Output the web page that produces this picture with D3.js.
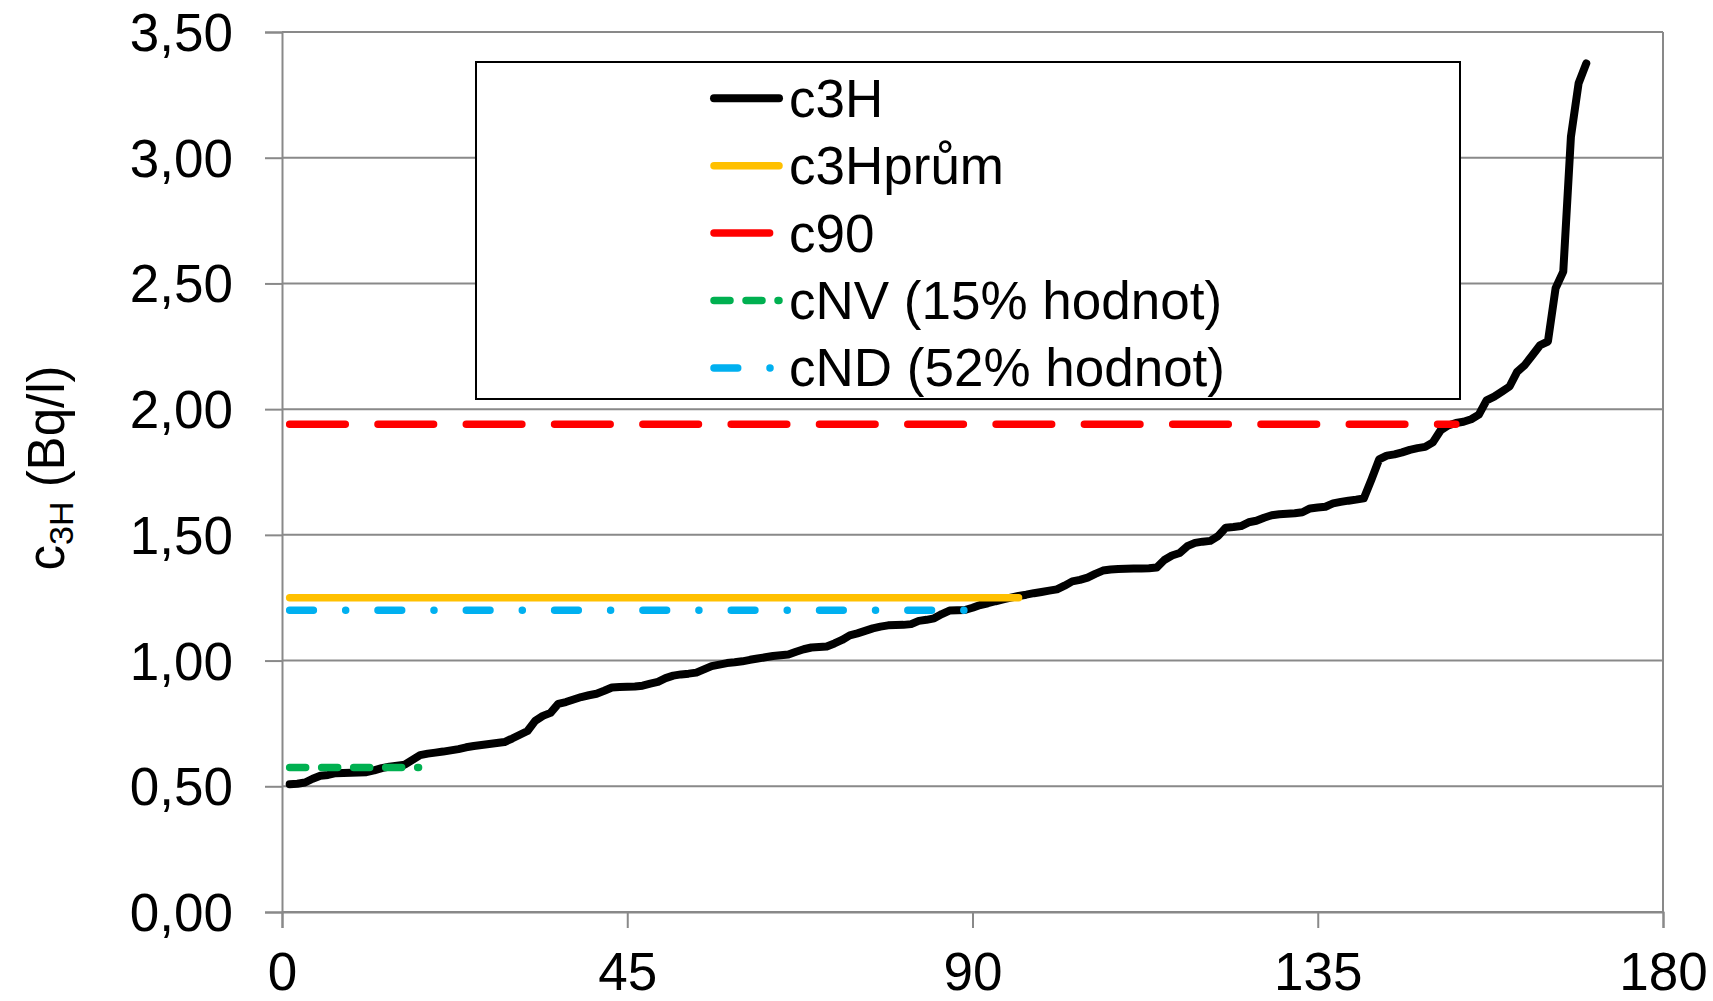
<!DOCTYPE html>
<html>
<head>
<meta charset="utf-8">
<script src="https://cdn.jsdelivr.net/npm/d3@7"></script>
<style>
  body { margin: 0; background: #fff; }
  text { font-family: Arial, "Liberation Sans", sans-serif; fill: #000; }
</style>
</head>
<body>
<svg></svg>
<script>
var width = 1713,
    height = 1001;

// data
var xTicks = [0, 45, 90, 135, 180];
var yTicks = [0, 0.5, 1, 1.5, 2, 2.5, 3, 3.5];

// sorted tritium concentrations, sample 1..170
var c3H = [
  0.508, 0.510, 0.515, 0.530, 0.542, 0.545, 0.552, 0.553, 0.554, 0.555,
  0.556, 0.563, 0.572, 0.578, 0.582, 0.586, 0.605, 0.624, 0.630, 0.634,
  0.638, 0.643, 0.648, 0.655, 0.660, 0.664, 0.668, 0.672, 0.676, 0.690,
  0.705, 0.720, 0.760, 0.780, 0.792, 0.828, 0.835, 0.845, 0.855, 0.862,
  0.868, 0.880, 0.893, 0.895, 0.896, 0.897, 0.900, 0.908, 0.915, 0.930,
  0.940, 0.945, 0.948, 0.952, 0.965, 0.978, 0.984, 0.990, 0.993, 0.997,
  1.003, 1.008, 1.013, 1.018, 1.021, 1.024, 1.035, 1.045, 1.052, 1.054,
  1.056, 1.068, 1.082, 1.100, 1.108, 1.118, 1.128, 1.135, 1.140, 1.141,
  1.142, 1.145, 1.158, 1.162, 1.168, 1.185, 1.199, 1.200, 1.201, 1.210,
  1.221, 1.228, 1.236, 1.243, 1.250, 1.257, 1.262, 1.268, 1.273, 1.278,
  1.283, 1.298, 1.315, 1.321, 1.330, 1.345, 1.358, 1.362, 1.364, 1.365,
  1.366, 1.366, 1.367, 1.370, 1.400, 1.418, 1.428, 1.455, 1.468, 1.473,
  1.476, 1.495, 1.528, 1.531, 1.535, 1.550, 1.556, 1.568, 1.578, 1.582,
  1.584, 1.586, 1.590, 1.605, 1.609, 1.612, 1.625, 1.631, 1.636, 1.640,
  1.645, 1.720, 1.800, 1.815, 1.820, 1.828, 1.838, 1.845, 1.850, 1.868,
  1.915, 1.935, 1.945, 1.950, 1.960, 1.978, 2.035, 2.050, 2.070, 2.090,
  2.149, 2.176, 2.215, 2.255, 2.269, 2.481, 2.547, 3.084, 3.296, 3.375
];

// horizontal reference levels as two-point series [x, value]
var c3Hprum = [[1, 1.25], [96, 1.25]];
var c90 = [[1, 1.94], [153, 1.94]];
var cNV = [[1, 0.575], [17.8, 0.575]];
var cND = [[1, 1.20], [89, 1.20]];

var legendLabels = ["c3H", "c3Hprům", "c90", "cNV (15% hodnot)", "cND (52% hodnot)"];

// styles
var lineStyles = [
  { color: "#000000", dash: null },
  { color: "#FFC000", dash: null },
  { color: "#FF0000", dash: "55.6,32.7" },
  { color: "#00B050", dash: "16,16" },
  { color: "#00B0F0", dash: "23.7,32.3,0.01,32.3" }
];

var svg = d3.select("svg")
    .attr("width", width)
    .attr("height", height);

var x = d3.scaleLinear().domain([0, 180]).range([282, 1663]);
var y = d3.scaleLinear().domain([0, 3.5]).range([912, 32]);

var gridColor = "#898989";

//gridlines
svg.append("g")
  .selectAll("line")
  .data(yTicks)
  .enter().append("line")
    .attr("x1", x(0)).attr("x2", x(180))
    .attr("y1", function(d){ return y(d); })
    .attr("y2", function(d){ return y(d); })
    .attr("stroke", gridColor)
    .attr("stroke-width", 2);

// right border of the plot area
svg.append("line")
  .attr("x1", x(180)).attr("x2", x(180))
  .attr("y1", y(3.5)).attr("y2", y(0))
  .attr("stroke", gridColor)
  .attr("stroke-width", 2);

//y axis
var yAxis = d3.axisLeft(y)
  .tickValues(yTicks)
  .tickSize(17)
  .tickPadding(32)
  .tickFormat(function(d){ return d.toFixed(2).replace(".", ","); });

var gy = svg.append("g")
  .attr("transform", "translate(" + x(0) + ",0)")
  .call(yAxis);
gy.select(".domain").attr("stroke", gridColor).attr("stroke-width", 2);
gy.selectAll(".tick line").attr("stroke", gridColor).attr("stroke-width", 2);
gy.selectAll(".tick text")
  .attr("font-size", 53)
  .attr("font-family", "Arial, 'Liberation Sans', sans-serif")
  .attr("fill", "#000")
  .attr("dy", "0.35em");

//x axis
var xAxis = d3.axisBottom(x)
  .tickValues(xTicks)
  .tickSize(16)
  .tickPadding(24)
  .tickFormat(d3.format("d"));

var gx = svg.append("g")
  .attr("transform", "translate(0," + y(0) + ")")
  .call(xAxis);
gx.select(".domain").attr("stroke", gridColor).attr("stroke-width", 2);
gx.selectAll(".tick line").attr("stroke", gridColor).attr("stroke-width", 2);
gx.selectAll(".tick text")
  .attr("font-size", 53)
  .attr("font-family", "Arial, 'Liberation Sans', sans-serif")
  .attr("fill", "#000")
  .attr("dy", "0.71em");

//y axis title
var title = svg.append("text")
  .attr("transform", "translate(64,468) rotate(-90)")
  .attr("text-anchor", "middle")
  .attr("font-size", 51);
title.append("tspan").text("c");
title.append("tspan").attr("font-size", 34).attr("dy", 9).text("3H");
title.append("tspan").attr("dy", -9).text(" (Bq/l)");

//series
var line = d3.line()
  .x(function(d){ return x(d[0]); })
  .y(function(d){ return y(d[1]); });

var series = [
  c3H.map(function(v, i){ return [i + 1, v]; }),
  c3Hprum,
  c90,
  cNV,
  cND
];

svg.append("g")
  .selectAll("path")
  .data(series)
  .enter().append("path")
    .attr("d", line)
    .attr("fill", "none")
    .attr("stroke", function(d, i){ return lineStyles[i].color; })
    .attr("stroke-width", function(d, i){ return i == 0 ? 8 : 7.5; })
    .attr("stroke-linecap", "round")
    .attr("stroke-linejoin", "round")
    .attr("stroke-dasharray", function(d, i){ return lineStyles[i].dash; });

//legend
var legend = svg.append("g");
legend.append("rect")
  .attr("x", 476).attr("y", 62)
  .attr("width", 984).attr("height", 337)
  .attr("fill", "#fff")
  .attr("stroke", "#000")
  .attr("stroke-width", 2);

var item = legend.selectAll(".item")
  .data(legendLabels)
  .enter().append("g")
    .attr("class", "item")
    .attr("transform", function(d, i){ return "translate(0," + (98.3 + i * 67.4) + ")"; });

item.append("line")
  .attr("x1", 714).attr("x2", 779)
  .attr("y1", 0).attr("y2", 0)
  .attr("stroke", function(d, i){ return lineStyles[i].color; })
  .attr("stroke-width", function(d, i){ return i == 0 ? 8 : 7.5; })
  .attr("stroke-linecap", "round")
  .attr("stroke-dasharray", function(d, i){ return lineStyles[i].dash; });

item.append("text")
  .attr("x", 789)
  .attr("dy", "0.35em")
  .attr("font-size", 53)
  .text(function(d){ return d; });
</script>
</body>
</html>
